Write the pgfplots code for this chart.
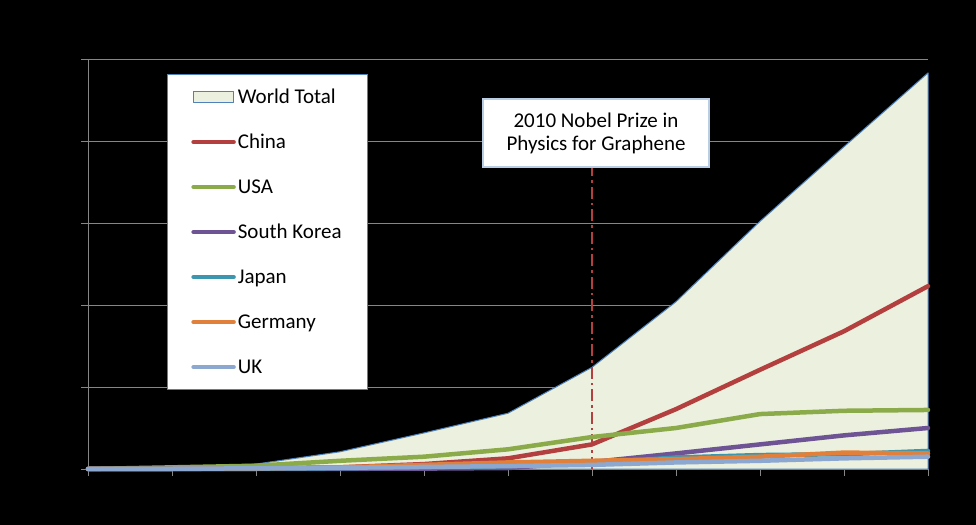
\documentclass[border=0pt]{standalone}
\usepackage{pgfplots}
\pgfplotsset{compat=1.18}
\usepackage{fontspec}
\setmainfont{Carlito}

\definecolor{worldfill}{HTML}{EBF1DE}
\definecolor{worldline}{HTML}{4F81BD}
\definecolor{chinac}{HTML}{B3403E}
\definecolor{usac}{HTML}{8BAA4A}
\definecolor{koreac}{HTML}{6E5494}
\definecolor{japanc}{HTML}{3C96B0}
\definecolor{germanyc}{HTML}{E0803A}
\definecolor{ukc}{HTML}{8DA8D0}
\definecolor{gridc}{HTML}{868686}
\definecolor{boxc}{HTML}{B9CDE5}

\begin{document}
\begin{tikzpicture}
  \fill[black] (0,0) rectangle (976bp,525bp);
  \begin{axis}[
      scale only axis,
      width=840bp, height=410bp,
      at={(88bp,56bp)}, anchor=south west,
      xmin=2004, xmax=2014,
      ymin=0, ymax=5000,
      xtick={2004,2005,...,2014},
      ytick={0,1000,...,5000},
      xticklabels={}, yticklabels={},
      axis lines=left,
      axis line style={draw=gridc, line width=0.8bp, -},
      tick style={draw=gridc, line width=0.8bp},
      tick align=outside,
      major tick length=7bp,
      ymajorgrids=true,
      grid style={draw=gridc, line width=0.8bp},
      clip=false,
      legend cell align=left,
      legend style={
        at={(rel axis cs:0.094,0.963)}, anchor=north west,
        draw=worldline, line width=0.8bp, fill=white,
        font=\fontsize{21bp}{23bp}\selectfont,
        inner xsep=24bp, inner ysep=0pt,
        row sep=0pt,
        nodes={minimum height=45bp, inner xsep=2bp, inner ysep=0pt, anchor=west},
      },
      every axis plot/.append style={line width=4.5bp, line cap=round, line join=round},
      legend image code/.code={\draw[#1] (1bp,0bp) -- (41bp,0bp);},
  ]

  \addplot[draw=worldline, line width=1bp, fill=worldfill, area legend,
    legend image code/.code={\draw[draw=worldline, line width=1bp, fill=worldfill] (1bp,-5.5bp) rectangle (41bp,5.5bp);}]
    coordinates {
      (2004,0) (2005,20) (2006,60) (2007,210) (2008,440) (2009,680)
      (2010,1240) (2011,2040) (2012,3020) (2013,3930) (2014,4830)
    } \closedcycle;
  \addlegendentry{World Total}

  \addplot[draw=chinac, line width=2bp, line cap=butt,
    dash pattern=on 12bp off 4bp on 2.5bp off 4bp, forget plot]
    coordinates {(2010,0) (2010,3683)};

  \addplot[draw=chinac] coordinates {
      (2004,0) (2005,3) (2006,8) (2007,20) (2008,60) (2009,130)
      (2010,300) (2011,730) (2012,1210) (2013,1680) (2014,2230)
    };
  \addlegendentry{China}

  \addplot[draw=usac] coordinates {
      (2004,0) (2005,20) (2006,40) (2007,100) (2008,150) (2009,240)
      (2010,390) (2011,500) (2012,670) (2013,710) (2014,720)
    };
  \addlegendentry{USA}

  \addplot[draw=koreac] coordinates {
      (2004,0) (2005,0) (2006,0) (2007,2) (2008,5) (2009,12)
      (2010,85) (2011,190) (2012,300) (2013,410) (2014,500)
    };
  \addlegendentry{South Korea}

  \addplot[draw=japanc] coordinates {
      (2004,0) (2005,2) (2006,5) (2007,10) (2008,20) (2009,35)
      (2010,70) (2011,140) (2012,170) (2013,180) (2014,220)
    };
  \addlegendentry{Japan}

  \addplot[draw=germanyc] coordinates {
      (2004,0) (2005,3) (2006,8) (2007,20) (2008,50) (2009,80)
      (2010,100) (2011,120) (2012,150) (2013,200) (2014,190)
    };
  \addlegendentry{Germany}

  \addplot[draw=ukc] coordinates {
      (2004,0) (2005,3) (2006,8) (2007,15) (2008,25) (2009,35)
      (2010,50) (2011,80) (2012,100) (2013,130) (2014,150)
    };
  \addlegendentry{UK}

  \node[draw=boxc, line width=2.5bp, fill=white, align=center,
        minimum width=226bp, minimum height=68bp, inner sep=0pt,
        font=\fontsize{21bp}{23bp}\selectfont, xshift=4bp]
    at (axis cs:2010,4098) {2010 Nobel Prize in\\Physics for Graphene};
  \end{axis}
\end{tikzpicture}
\end{document}
